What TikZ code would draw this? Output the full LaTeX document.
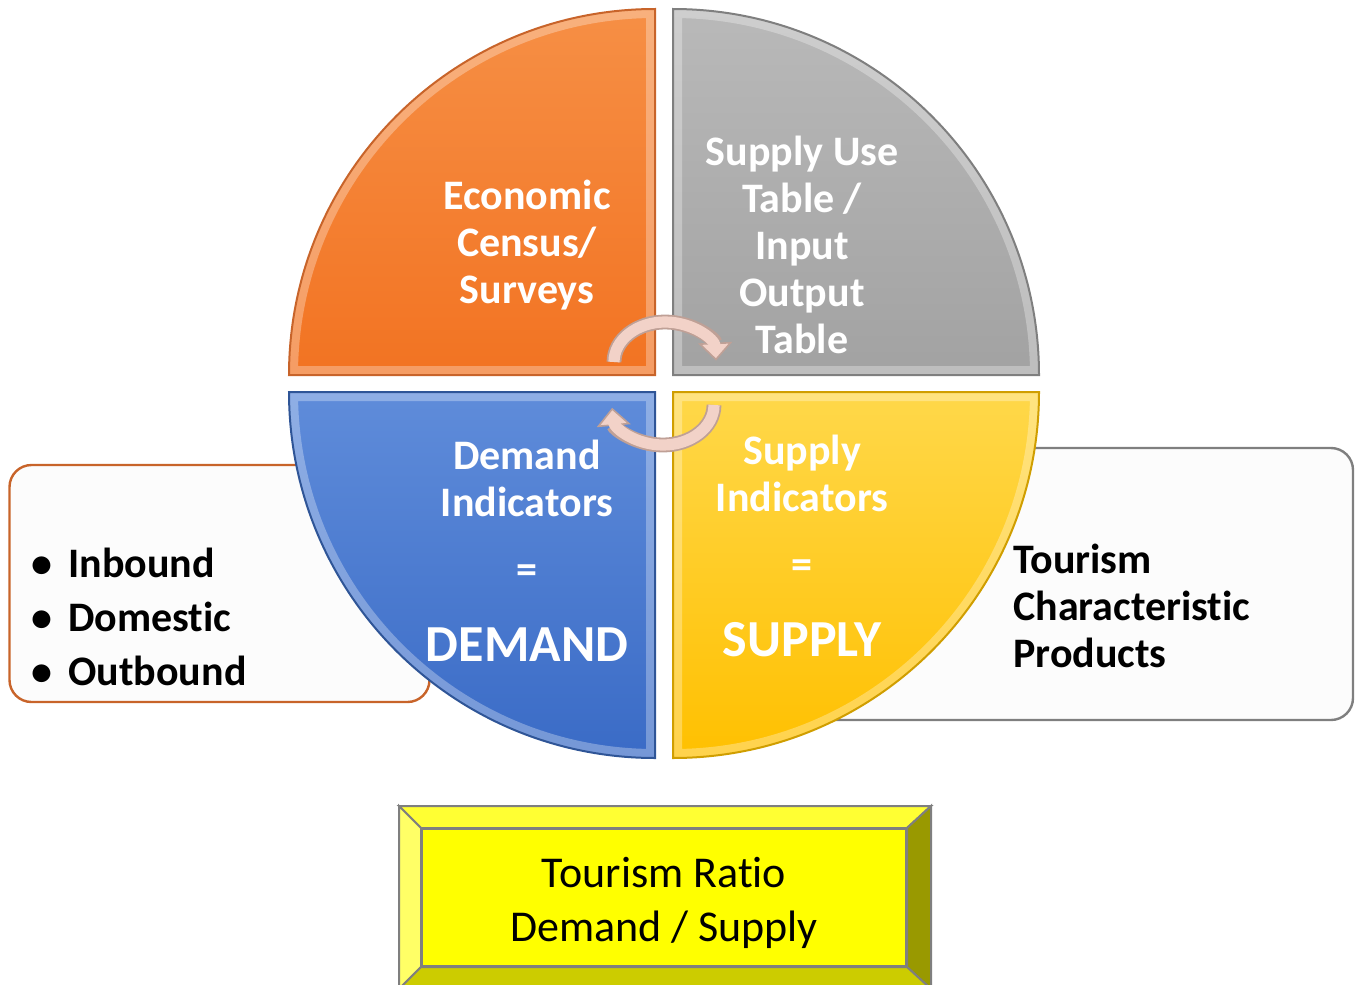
\documentclass[tikz,border=0pt]{standalone}
\usepackage{fontspec}
\setmainfont{Carlito}[Ligatures = CommonOff]
\usepackage{xcolor}
\usetikzlibrary{arrows.meta}

\definecolor{econtop}{HTML}{F68F45}
\definecolor{econbot}{HTML}{F27322}
\definecolor{econedge}{HTML}{C8642A}
\definecolor{suttop}{HTML}{B9B9B9}
\definecolor{sutbot}{HTML}{A2A2A2}
\definecolor{sutedge}{HTML}{7F7F7F}
\definecolor{demtop}{HTML}{5F8CDA}
\definecolor{dembot}{HTML}{3A6BC6}
\definecolor{demedge}{HTML}{2F5597}
\definecolor{suptop}{HTML}{FFD84A}
\definecolor{supbot}{HTML}{FFC000}
\definecolor{supedge}{HTML}{D09E00}
\definecolor{arrowpink}{HTML}{F2D2C8}
\definecolor{arrowrim}{HTML}{BFA096}
\definecolor{boxwhite}{HTML}{FCFCFC}
\definecolor{ratioyellow}{HTML}{FFFF00}

\tikzset{
  sidebox/.style = {rounded corners = 11pt, fill = boxwhite, line width = 1.2pt, inner sep = 0pt},
  quadtext/.style = {text = white, font = \bfseries\fontsize{21}{23.5}\selectfont, align = center},
  bigtext/.style = {text = white, font = \bfseries\fontsize{26}{30}\selectfont},
  listtext/.style = {font = \bfseries\fontsize{21}{27}\selectfont, align = left, anchor = west, inner sep = 0pt},
  rim/.style = {arrowrim, line width = 7.4pt,
    -{Triangle[length = 9pt, width = 17pt, fill = arrowpink, line width = 0.8pt]}},
  band/.style = {arrowpink, line width = 5.6pt, shorten > = 7pt},
  ratiobox/.style = {fill = ratioyellow, draw = sutedge, line width = 1pt,
    minimum width = 242pt, minimum height = 68.5pt},
  ratiolabel/.style = {align = center, font = \fontsize{22}{27}\selectfont}
}

\begin{document}
\begin{tikzpicture}[x = 0.5pt, y = -0.5pt]
  \useasboundingbox (0,0) rectangle (1355,985);

  % boxes behind the circle
  \node [sidebox, draw = econedge, minimum width = 210pt, minimum height = 118.5pt] (visitors) at (219.5,583.5) {};
  \node [sidebox, draw = sutedge, minimum width = 276pt, minimum height = 136pt] (products) at (1077,584) {};

  % the four quarters
  \foreach \cx/\cy/\sa/\q in {655/375/180/econ, 673/375/270/sut, 655/392/90/dem, 673/392/0/sup} {
    \path [top color = \q top, bottom color = \q bot]
      (\cx,\cy) -- ++(\sa:366) arc [start angle = \sa, end angle = \sa+90, radius = 366] -- cycle;
    \begin{scope}
      \clip (\cx,\cy) -- ++(\sa:366) arc [start angle = \sa, end angle = \sa+90, radius = 366] -- cycle;
      \draw [white, opacity = 0.3, line width = 9pt]
        (\cx,\cy) -- ++(\sa:366) arc [start angle = \sa, end angle = \sa+90, radius = 366] -- cycle;
    \end{scope}
    \draw [\q edge, line width = 1pt]
      (\cx,\cy) -- ++(\sa:366) arc [start angle = \sa, end angle = \sa+90, radius = 366] -- cycle;
  }

  % quarter labels
  \node [quadtext] (census) at (527,245) {Economic\\Census/\\Surveys};
  \node [quadtext] (sut) at (802,245) {Supply Use\\Table /\\Input\\Output\\Table};
  \node [quadtext] (demind) at (527,478) {Demand\\Indicators};
  \node [quadtext] (demeq) at (527,574) {=};
  \node [bigtext] (demand) at (527,645) {DEMAND};
  \node [quadtext] (supind) at (802,473) {Supply\\Indicators};
  \node [quadtext] (supeq) at (802,569) {=};
  \node [bigtext] (supply) at (802,640) {SUPPLY};

  % side texts
  \node [listtext] (vislist) at (31,617) {•\hspace{0.38em}Inbound\\•\hspace{0.38em}Domestic\\•\hspace{0.38em}Outbound};
  \node [listtext, font = \bfseries\fontsize{21}{23.3}\selectfont] (tcp) at (1013,606) {Tourism\\Characteristic\\Products};

  % cycle arrows
  \coordinate (topfoot) at (614,362);
  \coordinate (botfoot) at (714,405);
  \draw [rim] (topfoot) arc [start angle = 180, end angle = 358, x radius = 51, y radius = 40];
  \draw [band] (topfoot) arc [start angle = 180, end angle = 358, x radius = 51, y radius = 40];
  \draw [rim] (botfoot) arc [start angle = 0, end angle = 176, x radius = 51, y radius = 40];
  \draw [band] (botfoot) arc [start angle = 0, end angle = 176, x radius = 51, y radius = 40];

  % ratio box with bevel
  \node [ratiobox] (ratio) at (664,897.5) {};
  \filldraw [fill = ratioyellow!80!white, draw = sutedge, line width = 1pt]
    (ratio.north west) -- (ratio.north east) -- ([shift = {(24,-22)}]ratio.north east)
    -- ([shift = {(-22,-22)}]ratio.north west) -- cycle;
  \filldraw [fill = ratioyellow!60!white, draw = sutedge, line width = 1pt]
    (ratio.north west) -- ([shift = {(-22,-22)}]ratio.north west)
    -- ([shift = {(-22,22)}]ratio.south west) -- (ratio.south west) -- cycle;
  \filldraw [fill = ratioyellow!60!black, draw = sutedge, line width = 1pt]
    (ratio.north east) -- ([shift = {(24,-22)}]ratio.north east)
    -- ([shift = {(24,22)}]ratio.south east) -- (ratio.south east) -- cycle;
  \filldraw [fill = ratioyellow!80!black, draw = sutedge, line width = 1pt]
    (ratio.south west) -- (ratio.south east) -- ([shift = {(24,22)}]ratio.south east)
    -- ([shift = {(-22,22)}]ratio.south west) -- cycle;
  \node [ratiolabel] (ratiotext) at (664,903) {Tourism Ratio\\Demand / Supply};
\end{tikzpicture}
\end{document}
